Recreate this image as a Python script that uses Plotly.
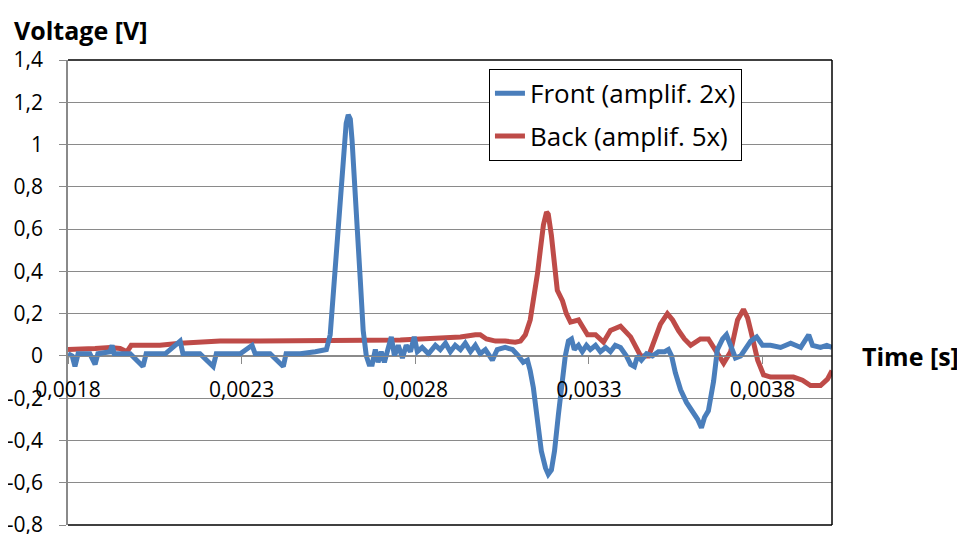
import plotly.graph_objects as go

# ---- data (time in microseconds, voltage in V) ----
front_time_us = [1800, 1812, 1820, 1829, 1863, 1878, 1886, 1921, 1927, 1933, 1979, 2016, 2025, 2080,
                 2123, 2131, 2180, 2218, 2227, 2296, 2330, 2339, 2382, 2420, 2428, 2469, 2512, 2532,
                 2544, 2555, 2567, 2578, 2590, 2601, 2607, 2613, 2618, 2624, 2633, 2642, 2650, 2659,
                 2667, 2676, 2685, 2693, 2702, 2711, 2722, 2731, 2740, 2751, 2763, 2774, 2786, 2797,
                 2806, 2820, 2838, 2858, 2872, 2887, 2901, 2915, 2930, 2944, 2959, 2973, 2987, 3002,
                 3022, 3036, 3059, 3080, 3097, 3111, 3123, 3131, 3140, 3152, 3163, 3175, 3183, 3192,
                 3201, 3212, 3224, 3232, 3241, 3250, 3258, 3270, 3281, 3293, 3304, 3319, 3333, 3348,
                 3362, 3376, 3391, 3408, 3420, 3431, 3440, 3451, 3466, 3483, 3500, 3518, 3529, 3538,
                 3549, 3564, 3581, 3598, 3613, 3624, 3633, 3644, 3659, 3670, 3685, 3696, 3708, 3722,
                 3737, 3751, 3766, 3783, 3800, 3823, 3852, 3881, 3910, 3933, 3944, 3967, 3985, 4000]
front_voltage = [0.01, 0.0, -0.05, 0.01, 0.01, -0.04, 0.01, 0.02, 0.05, 0.01, 0.01, -0.05, 0.01, 0.01,
                 0.07, 0.01, 0.01, -0.05, 0.01, 0.01, 0.05, 0.01, 0.01, -0.05, 0.01, 0.01, 0.02, 0.03,
                 0.03, 0.1, 0.35, 0.6, 0.9, 1.1, 1.14, 1.12, 1.02, 0.88, 0.6, 0.35, 0.12, 0.0,
                 -0.04, -0.04, 0.03, -0.03, 0.02, -0.03, 0.04, 0.09, 0.0, 0.05, -0.01, 0.05, 0.02, 0.09,
                 0.02, 0.04, 0.01, 0.05, 0.03, 0.06, 0.02, 0.05, 0.03, 0.06, 0.02, 0.05, 0.01, 0.03,
                 -0.02, 0.03, 0.04, 0.03, 0.0, -0.03, -0.02, -0.07, -0.15, -0.3, -0.45, -0.53, -0.56, -0.54,
                 -0.45, -0.28, -0.1, 0.0, 0.07, 0.08, 0.03, 0.05, 0.02, 0.05, 0.03, 0.05, 0.02, 0.04,
                 0.02, 0.05, 0.04, 0.0, -0.04, -0.05, 0.0, -0.02, 0.01, 0.0, 0.02, 0.02, 0.03, 0.0,
                 -0.08, -0.16, -0.22, -0.26, -0.3, -0.34, -0.29, -0.26, -0.12, 0.03, 0.08, 0.1, 0.05, -0.01,
                 0.0, 0.03, 0.07, 0.09, 0.05, 0.05, 0.04, 0.06, 0.04, 0.1, 0.05, 0.04, 0.05, 0.04]

back_time_us = [1800, 1835, 1878, 1921, 1950, 1970, 1982, 2008, 2065, 2123, 2180, 2238, 2353, 2469,
                2526, 2642, 2757, 2814, 2872, 2930, 2973, 2987, 3005, 3031, 3059, 3088, 3103, 3117,
                3131, 3143, 3152, 3160, 3169, 3178, 3183, 3192, 3201, 3209, 3224, 3235, 3247, 3270,
                3281, 3296, 3319, 3342, 3362, 3391, 3420, 3437, 3449, 3472, 3486, 3506, 3526, 3541,
                3558, 3575, 3593, 3621, 3644, 3665, 3688, 3708, 3728, 3745, 3757, 3766, 3777, 3786,
                3803, 3823, 3852, 3889, 3915, 3938, 3967, 3987, 4000]
back_voltage = [0.03, 0.03, 0.035, 0.04, 0.035, 0.02, 0.05, 0.05, 0.05, 0.06, 0.065, 0.07, 0.07, 0.07,
                0.07, 0.07, 0.075, 0.08, 0.085, 0.09, 0.1, 0.1, 0.08, 0.07, 0.07, 0.065, 0.07, 0.1,
                0.17, 0.28, 0.39, 0.5, 0.62, 0.68, 0.67, 0.57, 0.45, 0.31, 0.26, 0.2, 0.16, 0.17,
                0.14, 0.1, 0.1, 0.065, 0.12, 0.14, 0.09, 0.03, 0.0, 0.0, 0.06, 0.15, 0.2, 0.17,
                0.12, 0.08, 0.05, 0.08, 0.08, 0.03, -0.035, 0.02, 0.17, 0.22, 0.18, 0.12, 0.03, -0.02,
                -0.09, -0.1, -0.1, -0.1, -0.115, -0.14, -0.14, -0.11, -0.07]

series_names = ["Front (amplif. 2x)", "Back (amplif. 5x)"]
x_tick_vals = [0.0018, 0.0023, 0.0028, 0.0033, 0.0038]
x_tick_text = ["0,0018", "0,0023", "0,0028", "0,0033", "0,0038"]
y_tick_vals = [-0.8, -0.6, -0.4, -0.2, 0, 0.2, 0.4, 0.6, 0.8, 1.0, 1.2, 1.4]
y_tick_text = ["-0,8", "-0,6", "-0,4", "-0,2", "0", "0,2", "0,4", "0,6", "0,8", "1", "1,2", "1,4"]
x_range = [0.0018, 0.0040]
y_range = [-0.8, 1.4]

FONT = "Open Sans"
GRID = "#8a8a8a"
BLUE = "#4A7EBB"
RED = "#BE4B48"

fig = go.Figure()
# red first so the blue line is drawn on top; legendrank keeps Front listed first
fig.add_trace(go.Scatter(x=[t * 1e-6 for t in back_time_us], y=back_voltage, mode="lines",
                         name=series_names[1], legendgroup="b", legendrank=2,
                         line=dict(color=RED, width=5)))
fig.add_trace(go.Scatter(x=[t * 1e-6 for t in front_time_us], y=front_voltage, mode="lines",
                         name=series_names[0], legendgroup="a", legendrank=1,
                         line=dict(color=BLUE, width=5)))

zero_pos = (0 - y_range[0]) / (y_range[1] - y_range[0])

fig.update_layout(
    width=957, height=526,
    margin=dict(l=60, r=133, t=52, b=9),
    paper_bgcolor="white", plot_bgcolor="white",
    font=dict(family=FONT, size=21, color="black"),
    showlegend=True,
    legend=dict(x=0.551, y=0.981, xanchor="left", yanchor="top",
                bordercolor="black", borderwidth=1, bgcolor="white",
                font=dict(size=26, family=FONT, color="black"),
                traceorder="grouped", tracegroupgap=6),
    xaxis=dict(range=x_range, tickvals=x_tick_vals, ticktext=x_tick_text,
               showgrid=False, zeroline=False, showline=True, linecolor=GRID, linewidth=1,
               ticks="outside", ticklen=7, tickcolor=GRID, anchor="free", position=zero_pos,
               ticklabelstandoff=8, automargin=False, ticklabeloverflow="allow"),
    yaxis=dict(range=y_range, tickvals=y_tick_vals, ticktext=y_tick_text,
               showgrid=True, gridcolor=GRID, gridwidth=1, zeroline=False,
               showline=True, linecolor=GRID, linewidth=1.5,
               ticks="outside", ticklen=7, tickcolor=GRID, ticklabelstandoff=12,
               automargin=False, ticklabeloverflow="allow"),
    shapes=[
        dict(type="line", xref="paper", yref="paper", x0=0, x1=1, y0=1, y1=1,
             line=dict(color="black", width=1.5), layer="above"),
        dict(type="line", xref="paper", yref="paper", x0=1, x1=1, y0=0, y1=1,
             line=dict(color="black", width=1.5), layer="above"),
        dict(type="line", xref="paper", yref="paper", x0=0, x1=1, y0=0, y1=0,
             line=dict(color="black", width=1.5), layer="above"),
    ],
    annotations=[
        dict(text="<b>Voltage [V]</b>", xref="paper", yref="paper", x=-0.0733, y=1.0,
             xanchor="left", yanchor="middle", yshift=30, showarrow=False,
             font=dict(size=25, family=FONT, color="black")),
        dict(text="<b>Time [s]</b>", xref="paper", yref="paper", x=1.0, y=zero_pos,
             xanchor="left", yanchor="middle", xshift=28, showarrow=False,
             font=dict(size=25, family=FONT, color="black")),
    ],
)

fig.write_html("out.html")
